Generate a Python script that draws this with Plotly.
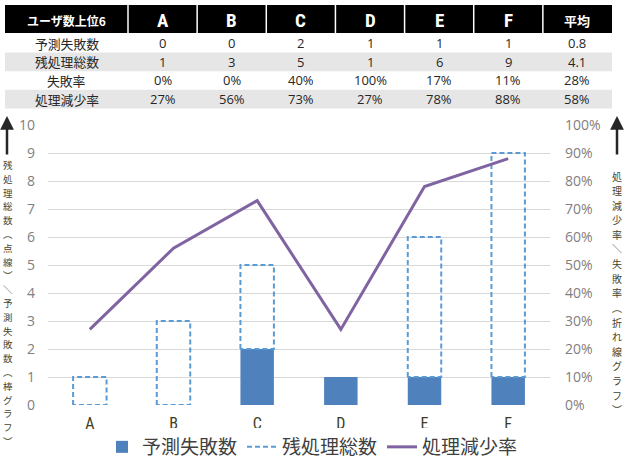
import plotly.graph_objects as go

# ---- data ----
categories = ["A", "B", "C", "D", "E", "F"]
pred_fail = [0, 0, 2, 1, 1, 1]
remaining_total = [1, 3, 5, 1, 6, 9]
fail_rate = [0.00, 0.00, 0.40, 1.00, 0.17, 0.11]
reduction_rate = [0.27, 0.56, 0.73, 0.27, 0.78, 0.88]
avg_pred_fail = 0.8
avg_remaining = 4.1
avg_fail_rate = 0.28
avg_reduction = 0.58

row_labels = ["予測失敗数", "残処理総数", "失敗率", "処理減少率"]
header_first = "ユーザ数上位6"
header_last = "平均"
left_title = "残処理総数︵点線︶＼予測失敗数︵棒グラフ︶"
right_title = "処理減少率＼失敗率︵折れ線グラフ︶"
left_ticks = list(range(0, 11))
right_ticks = [i / 10 for i in range(0, 11)]

W, H = 625, 459
JP = "Noto Sans CJK JP"
NUMF = "Liberation Sans Narrow, Open Sans, Noto Sans CJK JP"
COND = "Roboto Condensed, Liberation Sans Narrow, Noto Sans"

def pct(v):
    return f"{round(v * 100)}%"

def py(p):
    return 1 - p / H

def pxx(p):
    return p / W

fig = go.Figure()

# ---- table (shapes + text built from the data lists) ----
cols = [row_labels]
for i in range(len(categories)):
    cols.append([str(pred_fail[i]), str(remaining_total[i]), pct(fail_rate[i]), pct(reduction_rate[i])])
cols.append([str(avg_pred_fail), str(avg_remaining), pct(avg_fail_rate), pct(avg_reduction)])
header_vals = [header_first] + categories + [header_last]

tx0, tx1 = 5, 612
first_w = 123
col_w = (tx1 - tx0 - first_w) / (len(header_vals) - 1)
col_edges = [tx0, tx0 + first_w] + [tx0 + first_w + col_w * (k + 1) for k in range(len(header_vals) - 1)]
hy0, hy1 = 5, 33
row_h = 18.6
row_top = 34
row_fill = ["#ffffff", "#e7e6e6", "#ffffff", "#e7e6e6"]

shapes = []
shapes.append(dict(type="rect", xref="paper", yref="paper", x0=pxx(tx0), x1=pxx(tx1),
                   y0=py(hy1), y1=py(hy0), fillcolor="#000000", line=dict(width=0), layer="below"))
for r in range(len(row_labels)):
    if row_fill[r] != "#ffffff":
        shapes.append(dict(type="rect", xref="paper", yref="paper", x0=pxx(tx0), x1=pxx(tx1),
                           y0=py(row_top + (r + 1) * row_h), y1=py(row_top + r * row_h),
                           fillcolor=row_fill[r], line=dict(width=0), layer="below"))
for e in col_edges[1:-1]:
    shapes.append(dict(type="line", xref="paper", yref="paper", x0=pxx(e), x1=pxx(e),
                       y0=py(hy1), y1=py(hy0), line=dict(color="#ffffff", width=1.5)))

for c, hv in enumerate(header_vals):
    cx = (col_edges[c] + col_edges[c + 1]) / 2
    size = 12 if c == 0 else (13 if c == len(header_vals) - 1 else 19)
    fam = JP if (c == 0 or c == len(header_vals) - 1) else COND
    fig.add_annotation(x=pxx(cx), y=py((hy0 + hy1) / 2 + 1), xref="paper", yref="paper",
                       text=f"<b>{hv}</b>", showarrow=False, xanchor="center", yanchor="middle",
                       borderpad=0, font=dict(family=fam, size=size, color="#ffffff"))
for c, col in enumerate(cols):
    cx = (col_edges[c] + col_edges[c + 1]) / 2
    for r, v in enumerate(col):
        cy = row_top + (r + 0.5) * row_h
        fig.add_annotation(x=pxx(cx), y=py(cy), xref="paper", yref="paper",
                           text=v, showarrow=False, xanchor="center", yanchor="middle",
                           borderpad=0,
                           font=dict(family=JP if c == 0 else NUMF, size=12.8 if c == 0 else 13,
                                     color="#262626"))

# ---- bars (予測失敗数) ----
xs = list(range(len(categories)))
bw = 0.4
fig.add_trace(go.Bar(
    x=xs, y=pred_fail, width=bw, name="予測失敗数",
    marker=dict(color="#4f81bd", line=dict(width=0)),
    xaxis="x", yaxis="y",
))

# ---- dashed outline (残処理総数) stacked above 予測失敗数 ----
dx, dy = [], []
for i, (f, t) in enumerate(zip(pred_fail, remaining_total)):
    if t > f:
        dx += [i - bw / 2, i - bw / 2, i + bw / 2, i + bw / 2, i - bw / 2, None]
        dy += [f, t, t, f, f, None]
fig.add_trace(go.Scatter(
    x=dx, y=dy, mode="lines", name="残処理総数",
    line=dict(color="#5b9bd5", width=2, dash="5px,3px"),
    xaxis="x", yaxis="y", hoverinfo="skip",
))

# ---- line (処理減少率) ----
fig.add_trace(go.Scatter(
    x=xs, y=reduction_rate, mode="lines", name="処理減少率",
    line=dict(color="#8064a2", width=3),
    xaxis="x", yaxis="y2",
))

plot_l, plot_r = pxx(48), pxx(550)
plot_b, plot_t = py(405), py(125)

fig.update_layout(
    width=W, height=H,
    margin=dict(l=0, r=0, t=0, b=0, autoexpand=False),
    paper_bgcolor="white", plot_bgcolor="white",
    showlegend=True,
    shapes=shapes,
    legend=dict(
        orientation="h", x=0.5, xanchor="center", y=py(447), yanchor="middle",
        font=dict(family=JP, size=19, color="#404040"),
        itemwidth=30, tracegroupgap=0,
    ),
    xaxis=dict(
        domain=[plot_l, plot_r], range=[-0.5, len(categories) - 0.5],
        tickvals=xs, ticktext=categories, showgrid=False, zeroline=False,
        showline=False, ticks="", ticklabelstandoff=7,
        tickfont=dict(family=COND, size=16, color="#3d3d24"),
        anchor="y", automargin=False,
    ),
    yaxis=dict(
        domain=[plot_b, plot_t], range=[0, 10], tickvals=left_ticks,
        showgrid=True, gridcolor="#d9d9d9", gridwidth=1, zeroline=False,
        showline=False, ticks="", ticklabelstandoff=12,
        tickfont=dict(family=NUMF, size=14, color="#808080"),
        anchor="x", automargin=False,
    ),
    yaxis2=dict(
        domain=[plot_b, plot_t], range=[0, 1], tickvals=right_ticks, tickformat=".0%",
        overlaying="y", side="right", showgrid=False, zeroline=False,
        showline=False, ticks="", ticklabelstandoff=14,
        tickfont=dict(family=NUMF, size=14, color="#808080"),
        anchor="x", automargin=False,
    ),
)

# ---- vertical axis titles (upright characters stacked top to bottom) ----
def vertical_text(text, xpix, y_first, step, size):
    for k, ch in enumerate(text):
        fig.add_annotation(
            x=pxx(xpix), y=py(y_first + k * step), xref="paper", yref="paper",
            text=ch, showarrow=False, xanchor="center", yanchor="middle", borderpad=0,
            font=dict(family=JP, size=size, color="#46452c"),
        )

vertical_text(left_title, 8, 165, 13.8, 9.5)
vertical_text(right_title, 617, 176, 14.6, 10)

# arrows
for xp in (7, 617):
    fig.add_annotation(
        x=pxx(xp), y=py(116), ax=0, ay=40,
        xref="paper", yref="paper", axref="pixel", ayref="pixel",
        text="", showarrow=True, arrowhead=2, arrowsize=1.1, arrowwidth=2.5,
        arrowcolor="#262626",
    )

fig.write_html("out.html")
